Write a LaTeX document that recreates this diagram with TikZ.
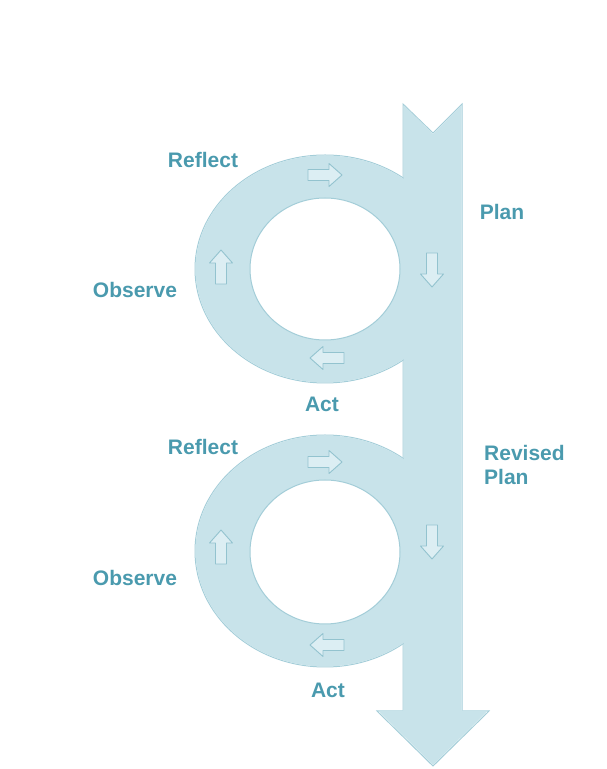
\documentclass[tikz,border=0pt]{standalone}
\usepackage{fontspec}
\setmainfont{Liberation Sans}
\definecolor{loopfill}{HTML}{C8E3EA}
\definecolor{loopline}{HTML}{A3CDD8}
\definecolor{arrline}{HTML}{93C3CF}
\definecolor{arrfill}{HTML}{DCEEF3}
\definecolor{txt}{HTML}{4A9AAE}
\begin{document}
\begin{tikzpicture}[x=1pt,y=1pt,
  lbl/.style={text=txt,font=\fontsize{21}{24}\selectfont\bfseries,inner sep=0pt},
  barrow/.pic={\draw[arrline,fill=arrfill,line width=0.9pt,line join=round]
     (-17,-5.5) -- (4,-5.5) -- (4,-11.5) -- (17,0) -- (4,11.5) -- (4,5.5) -- (-17,5.5) -- cycle;}]
\useasboundingbox (0,0) rectangle (606,769);
% outlines
\begin{scope}[draw=loopline,line width=1pt]
\draw (325,500) ellipse [x radius=130,y radius=114];
\draw (325,218) ellipse [x radius=130,y radius=116];
\draw (403,665) -- (433,636) -- (462,665) -- (462,58) -- (489,58) -- (433,3) -- (377,58) -- (403,58) -- cycle;
\end{scope}
% fills covering inner outlines
\begin{scope}[fill=loopfill]
\fill (325,500) ellipse [x radius=129.5,y radius=113.5];
\fill (325,218) ellipse [x radius=129.5,y radius=115.5];
\fill (403.5,664) -- (433,635) -- (461.5,664) -- (461.5,58.5) -- (488,58.5) -- (433,4) -- (378,58.5) -- (403.5,58.5) -- cycle;
\end{scope}
% holes
\draw[loopline,fill=white,line width=1pt] (325,500) ellipse [x radius=75,y radius=71];
\draw[loopline,fill=white,line width=1pt] (325,217) ellipse [x radius=75,y radius=72];
% small arrows
\pic at (325,594) {barrow};
\pic[rotate=180] at (327,411) {barrow};
\pic[rotate=90] at (221,502) {barrow};
\pic[rotate=-90] at (432,499) {barrow};
\pic at (325,307) {barrow};
\pic[rotate=180] at (327,124) {barrow};
\pic[rotate=90] at (221,222) {barrow};
\pic[rotate=-90] at (432,227) {barrow};
% labels
\node[lbl] (r1) at (203,609) {Reflect};
\node[lbl] (o1) at (135,479) {Observe};
\node[lbl] (a1) at (322,365) {Act};
\node[lbl] (p1) at (502,557) {Plan};
\node[lbl] (r2) at (203,322) {Reflect};
\node[lbl] (o2) at (135,191) {Observe};
\node[lbl] (a2) at (328,79) {Act};
\node[lbl,align=left,anchor=west] (p2) at (484,304) {Revised\\Plan};
\end{tikzpicture}
\end{document}
